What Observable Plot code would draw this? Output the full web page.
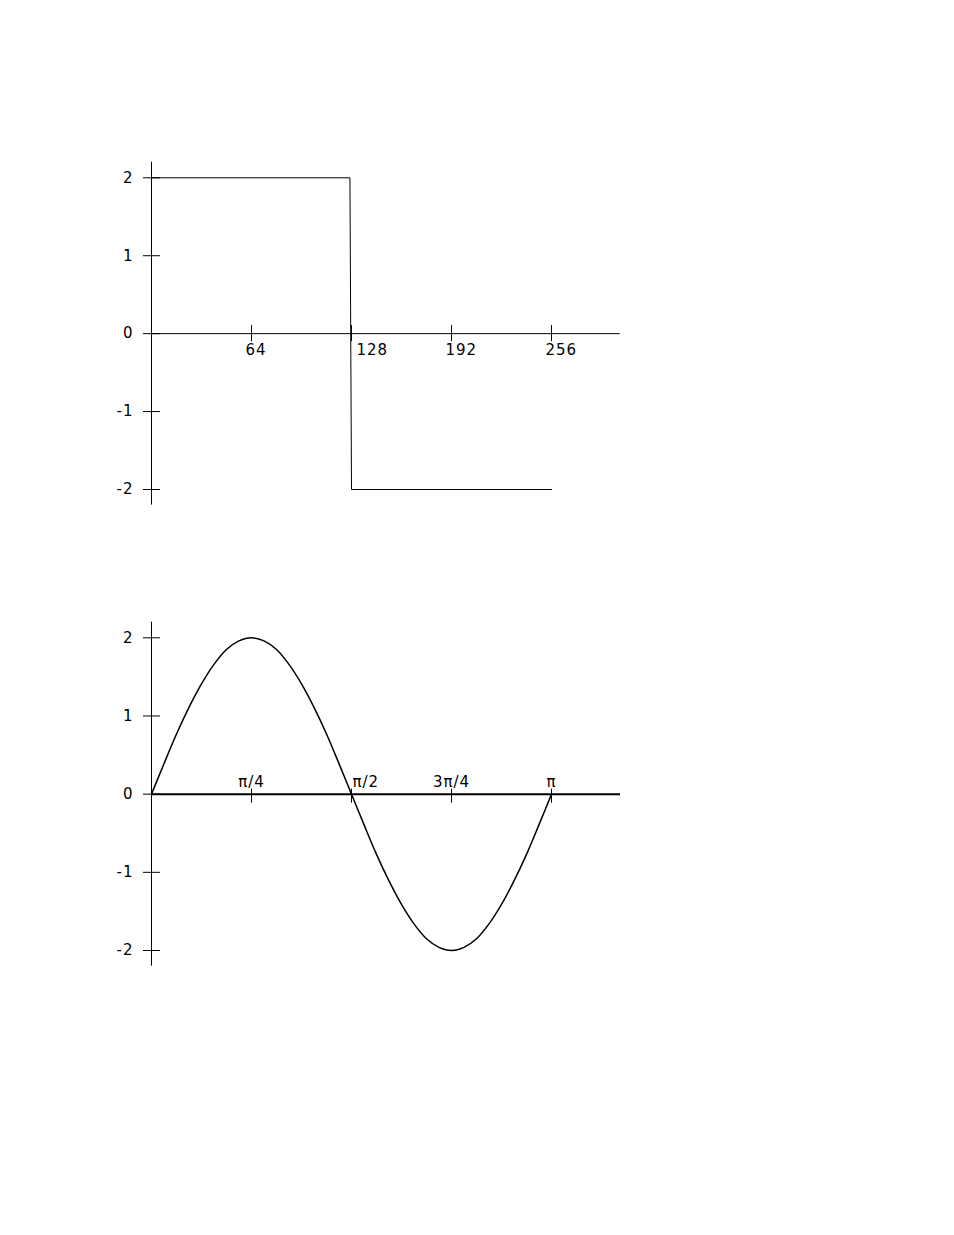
<!DOCTYPE html>
<html>
<head>
<meta charset="utf-8">
<script src="https://cdn.jsdelivr.net/npm/d3@7"></script>
<script src="https://cdn.jsdelivr.net/npm/@observablehq/plot@0.6"></script>
<style>
  html, body { margin: 0; padding: 0; background: #fff; }
  #wrap { width: 954px; height: 1235px; position: relative; }
  #wrap svg { display: block; }
  #wrap svg text { letter-spacing: 1px; }
</style>
</head>
<body>
<div id="wrap"></div>
<script>
// ---- Top chart: square wave (sample index 0..256) ----
const stepX = [0, 127, 128, 256];
const stepY = [2, 2, -2, -2];
const topXTicks = [64, 128, 192, 256];
const topXLabels = ["64", "128", "192", "256"];
const yTicks = [2, 1, 0, -1, -2];
const yLabels = ["2", "1", "0", "-1", "-2"];

// ---- Bottom chart: sine wave, x in multiples of π ----
const sineX = [0, 0.03125, 0.0625, 0.09375, 0.125, 0.15625, 0.1875, 0.21875, 0.25,
  0.28125, 0.3125, 0.34375, 0.375, 0.40625, 0.4375, 0.46875, 0.5,
  0.53125, 0.5625, 0.59375, 0.625, 0.65625, 0.6875, 0.71875, 0.75,
  0.78125, 0.8125, 0.84375, 0.875, 0.90625, 0.9375, 0.96875, 1];
const sineY = [0, 0.39, 0.77, 1.11, 1.41, 1.66, 1.85, 1.96, 2.00,
  1.96, 1.85, 1.66, 1.41, 1.11, 0.77, 0.39, 0,
  -0.39, -0.77, -1.11, -1.41, -1.66, -1.85, -1.96, -2.00,
  -1.96, -1.85, -1.66, -1.41, -1.11, -0.77, -0.39, 0];
const botXTicks = [0.25, 0.5, 0.75, 1];
const botXLabels = ["π/4", "π/2", "3π/4", "π"];

const FONT = "DejaVu Sans";
const FS = 15;

const stepData = stepX.map((x, i) => ({x, y: stepY[i]}));
const sineData = sineX.map((x, i) => ({x, y: sineY[i]}));
const topXT = topXTicks.map((v, i) => ({v, label: topXLabels[i]}));
const botXT = botXTicks.map((v, i) => ({v, label: botXLabels[i]}));
const yT = yTicks.map((v, i) => ({v, label: yLabels[i]}));

const topPlot = Plot.plot({
  width: 954,
  height: 560,
  x: {domain: [0, 256], range: [151, 551]},
  y: {domain: [-2, 2], range: [489, 177.3]},
  axis: null,
  style: {background: "white", color: "black"},
  marks: [
    // axes through the origin
    Plot.ruleY([0], {x1: 0, x2: 300, stroke: "black", strokeWidth: 1}),
    Plot.ruleX([0], {y1: -2.2, y2: 2.2, stroke: "black", strokeWidth: 1}),
    // x ticks
    Plot.ruleX(topXT, {x: "v", y1: 0, y2: 0, insetTop: -8, insetBottom: -8, stroke: "black"}),
    // y ticks
    Plot.ruleY(yT, {y: "v", x1: 0, x2: 0, insetLeft: -8, insetRight: -9, stroke: "black"}),
    // x labels
    Plot.text(topXT.filter(d => d.label !== "128"), {x: "v", y: 0, text: "label", textAnchor: "start", lineAnchor: "top", dx: -6, dy: 11, fontFamily: FONT, fontSize: FS, fill: "black"}),
    Plot.text(topXT.filter(d => d.label === "128"), {x: "v", y: 0, text: "label", textAnchor: "start", lineAnchor: "top", dx: 5, dy: 11, fontFamily: FONT, fontSize: FS, fill: "black"}),
    // y labels
    Plot.text(yT, {x: 0, y: "v", text: "label", textAnchor: "end", dx: -18, fontFamily: FONT, fontSize: FS, fill: "black"}),
    // square wave
    Plot.line(stepData, {x: "x", y: "y", stroke: "black", strokeWidth: 1})
  ]
});

const botPlot = Plot.plot({
  width: 954,
  height: 675,
  x: {domain: [0, 1], range: [151, 551]},
  y: {domain: [-2, 2], range: [390, 77.3]},
  axis: null,
  style: {background: "white", color: "black"},
  marks: [
    Plot.ruleY([0], {x1: 0, x2: 1.1725, stroke: "black", strokeWidth: 2}),
    Plot.ruleX([0], {y1: -2.2, y2: 2.2, stroke: "black", strokeWidth: 1}),
    Plot.ruleX(botXT, {x: "v", y1: 0, y2: 0, insetTop: -5, insetBottom: -9, stroke: "black"}),
    Plot.ruleY(yT, {y: "v", x1: 0, x2: 0, insetLeft: -8, insetRight: -9, stroke: "black"}),
    Plot.text(botXT.filter(d => d.label !== "π/2"), {x: "v", y: 0, text: "label", textAnchor: "middle", lineAnchor: "bottom", dy: -7, fontFamily: FONT, fontSize: FS, fill: "black"}),
    Plot.text(botXT.filter(d => d.label === "π/2"), {x: "v", y: 0, text: "label", textAnchor: "start", lineAnchor: "bottom", dx: 1, dy: -7, fontFamily: FONT, fontSize: FS, fill: "black"}),
    Plot.text(yT, {x: 0, y: "v", text: "label", textAnchor: "end", dx: -18, fontFamily: FONT, fontSize: FS, fill: "black"}),
    Plot.line(sineData, {x: "x", y: "y", stroke: "black", strokeWidth: 1.5, curve: "catmull-rom"})
  ]
});

const wrap = document.getElementById("wrap");
wrap.appendChild(topPlot);
wrap.appendChild(botPlot);
</script>
</body>
</html>
